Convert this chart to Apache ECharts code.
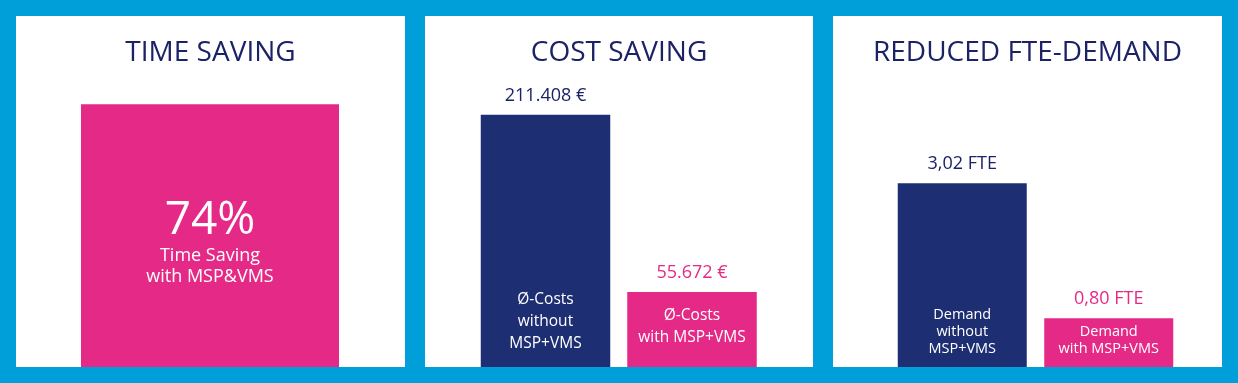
<!DOCTYPE html>
<html>
<head>
<meta charset="utf-8">
<script src="https://cdn.jsdelivr.net/npm/echarts@6/dist/echarts.min.js"></script>
<style>
  html, body { margin: 0; padding: 0; background: #009fd9; }
  #chart { width: 1238px; height: 383px; }
</style>
</head>
<body>
<div id="chart"></div>
<script>
// ---- data ----
const panelTitles = ['TIME SAVING', 'COST SAVING', 'REDUCED FTE-DEMAND'];

const timeCategories = ['Time Saving with MSP&VMS'];
const timeValues = [74];
const timeBarText = ['Time Saving', 'with MSP&VMS'];

const costCategories = ['Ø-Costs without MSP+VMS', 'Ø-Costs with MSP+VMS'];
const costValues = [211408, 55672];
const costBarText = ['Ø-Costs\nwithout\nMSP+VMS', 'Ø-Costs\nwith MSP+VMS'];

const fteCategories = ['Demand without MSP+VMS', 'Demand with MSP+VMS'];
const fteValues = [3.02, 0.80];
const fteBarText = ['Demand\nwithout\nMSP+VMS', 'Demand\nwith MSP+VMS'];

// ---- styles ----
const BLUE = '#009fd9';
const NAVY = '#1d2e73';
const NAVY_TEXT = '#1b2266';
const PINK = '#e42a86';
const FONT = '"Open Sans", "Noto Sans", sans-serif';
const barColors = [NAVY, PINK];

function fmtEuro(v) {
  return String(v).replace(/\B(?=(\d{3})+(?!\d))/g, '.') + ' €';
}
function fmtFte(v) {
  return v.toFixed(2).replace('.', ',') + ' FTE';
}

const chart = echarts.init(document.getElementById('chart'), null, { renderer: 'canvas' });

const panels = [[16, 405], [425, 813], [833, 1222]];

const option = {
  backgroundColor: BLUE,
  animation: false,
  graphic: panels.map(p => ({
    type: 'rect', z: -10,
    shape: { x: p[0], y: 16, width: p[1] - p[0], height: 351 },
    style: { fill: '#ffffff' }
  })),
  title: panelTitles.map((t, i) => ({
    text: t,
    left: (panels[i][0] + panels[i][1]) / 2,
    top: 39,
    padding: 0,
    textAlign: 'center',
    textStyle: { fontFamily: FONT, fontSize: 28, fontWeight: 'normal', color: NAVY_TEXT }
  })),
  grid: [
    { left: 81, width: 258, top: 12, height: 355 },
    { left: 472.25, width: 293, top: 14, height: 353 },
    { left: 889, width: 293, top: 14, height: 353 }
  ],
  xAxis: [
    { gridIndex: 0, type: 'category', data: timeCategories, show: false },
    { gridIndex: 1, type: 'category', data: costCategories, show: false },
    { gridIndex: 2, type: 'category', data: fteCategories, show: false }
  ],
  yAxis: [
    { gridIndex: 0, type: 'value', min: 0, max: 100, show: false },
    { gridIndex: 1, type: 'value', min: -10300, max: 300000, startValue: -10300, show: false },
    { gridIndex: 2, type: 'value', min: 0, max: 5.8, show: false }
  ],
  series: [
    {
      type: 'bar', xAxisIndex: 0, yAxisIndex: 0, barWidth: 258,
      itemStyle: { color: PINK },
      data: timeValues.map(v => ({
        value: v,
        label: {
          show: true, position: 'inside', offset: [0, 6],
          formatter: p => '{big|' + p.value + '%}\n{small|' + timeBarText[0] + '}\n{small|' + timeBarText[1] + '}',
          rich: {
            big: { fontFamily: FONT, fontSize: 46, lineHeight: 50, color: '#fff', align: 'center' },
            small: { fontFamily: FONT, fontSize: 18, lineHeight: 21, color: '#fff', align: 'center' }
          }
        }
      }))
    },
    {
      type: 'bar', xAxisIndex: 1, yAxisIndex: 1, barWidth: 129.5, barGap: '-100%',
      data: costValues.map((v, i) => ({
        value: v,
        itemStyle: { color: barColors[i] },
        label: {
          show: true, position: 'insideBottom', distance: i === 0 ? 12 : 18,
          formatter: costBarText[i],
          fontFamily: FONT, fontSize: 15.5, lineHeight: 22, color: '#fff', align: 'center'
        }
      }))
    },
    {
      type: 'bar', xAxisIndex: 1, yAxisIndex: 1, barWidth: 129.5, barGap: '-100%',
      itemStyle: { color: 'rgba(0,0,0,0)' }, z: 3,
      data: costValues.map((v, i) => ({
        value: v,
        label: {
          show: true, position: 'top', distance: 10,
          formatter: fmtEuro(v),
          fontFamily: FONT, fontSize: 18, color: i === 0 ? NAVY_TEXT : PINK
        }
      }))
    },
    {
      type: 'bar', xAxisIndex: 2, yAxisIndex: 2, barWidth: 129, barGap: '-100%',
      data: fteValues.map((v, i) => ({
        value: v,
        itemStyle: { color: barColors[i] },
        label: {
          show: true, position: 'insideBottom', distance: 9.5,
          formatter: fteBarText[i],
          fontFamily: FONT, fontSize: 14.5, lineHeight: 17, color: '#fff', align: 'center'
        }
      }))
    },
    {
      type: 'bar', xAxisIndex: 2, yAxisIndex: 2, barWidth: 129, barGap: '-100%',
      itemStyle: { color: 'rgba(0,0,0,0)' }, z: 3,
      data: fteValues.map((v, i) => ({
        value: v,
        label: {
          show: true, position: 'top', distance: 10,
          formatter: fmtFte(v),
          fontFamily: FONT, fontSize: 18, color: i === 0 ? NAVY_TEXT : PINK
        }
      }))
    }
  ]
};
chart.setOption(option);
</script>
</body>
</html>
